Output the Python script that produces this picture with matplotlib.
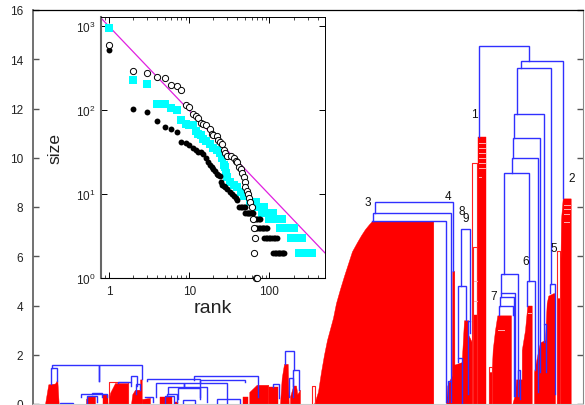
import matplotlib
matplotlib.use("Agg")
import matplotlib.pyplot as plt

plt.rcParams['font.family'] = ['Liberation Sans', 'DejaVu Sans']
plt.rcParams['mathtext.default'] = 'regular'

# main panel: red clusters as outlines (leaf position, height)
red_x = [
    [45, 48.3, 55, 57.3, 58.7],
    [86, 88, 95],
    [103.3, 105, 108.3],
    [108.3, 110, 115, 128.3],
    [131, 132.3, 135, 140, 140.1, 141.7],
    [141.7, 150],
    [160, 171.7],
    [175, 178.3],
    [243.3, 248.3],
    [249.3, 256.7, 268.3],
    [269.3, 277.7],
    [280, 281.7, 284, 287.7, 288.7],
    [290, 293.3, 296, 297.3, 300],
    [314, 318, 321, 324, 327, 330, 333, 336, 340, 344, 348, 352, 357, 361, 365, 369, 372, 433.3],
    [446, 447.3, 451.7, 452.3, 454.3, 454.4, 461.7, 464, 468.3, 468.4, 472],
    [472.5, 477],
    [477.7, 485.7],
    [489, 491.7, 492.7, 495, 497.3, 511],
    [512.3, 515, 516, 521.7, 521.8, 525, 527.3, 531.7],
    [534, 538.3, 540, 545, 546.7, 548.3, 553.3, 555],
    [556.7, 560, 561, 562.7, 570.7],
]
red_h = [
    [0, .8, .83, .99, 0],
    [.2, .31, .31],
    [.38, .38, .38],
    [0, .45, .85, .85],
    [0, .4, .58, .58, 1.0, 1.0],
    [.2, .25],
    [.27, .27],
    [.1, .1],
    [.27, .27],
    [.49, .78, .78],
    [.68, .68],
    [0, 1.05, 1.63, 1.63, 0],
    [.3, .75, .75, .4, .58],
    [0, .5, 1.3, 2.0, 2.6, 3.05, 3.5, 4.1, 4.67, 5.2, 5.7, 6.2, 6.57, 6.85, 7.1, 7.3, 7.43, 7.43],
    [0, .75, 1.15, 5.4, 5.4, 1.6, 1.7, 3.4, 3.4, 2.8, 2.5],
    [3.6, 3.6],
    [10.85, 10.85],
    [1.3, 1.3, 2.2, 3.0, 3.6, 3.6],
    [0, .4, 1, 1, 2.2, 3, 4, 4],
    [1.3, 2.2, 2.5, 2.6, 4.1, 4.4, 4.5, 4.5],
    [4.3, 4.3, 7.5, 8.35, 8.35],
]

# hollow red boxes (left, right, top)
box_l = [109, 312, 472.3, 473, 489, 556.7]
box_r = [128.3, 315, 477, 477, 491.7, 560]
box_t = [.89, .75, 9.78, 6.37, 1.5, 6.23]

# thin pale lines through the peaks
stripe_x0 = [478.5, 478.5, 478.5, 478.5, 478.5, 478.5, 478.5, 563.5, 563.5, 563.5, 563.5, 498, 528, 474, 474]
stripe_x1 = [485, 485, 485, 485, 485, 485, 481, 570, 570, 569, 569, 504, 531, 477, 477]
stripe_h = [10.6, 10.4, 10.2, 10.0, 9.8, 9.6, 9.2, 8.1, 7.9, 7.7, 7.4, 3.0, 3.7, 5.0, 4.2]

# blue links: left x, right x, top, left foot, right foot
link_l = [479, 520.7, 516.7, 514, 512.7, 512, 503.7, 501.3, 501.3, 500.3, 499.3, 527, 550.3, 543.7,
          517.7, 375.3, 373.3, 372, 448, 461, 458.3, 468.3, 457.7,
          51.7, 50.7, 118.3, 131, 135.7, 80.7, 91.7, 86.7, 146.7, 194.3, 200, 155.7, 168.3, 178.3, 166.7,
          165, 216.7, 183.3, 145, 60, 285, 292.7, 289.3, 273.3, 99.3, 184.3]
link_r = [529.3, 563.3, 551, 544.3, 540.3, 538.3, 529.3, 518.3, 515.3, 514, 513.3, 534.7, 555, 546,
          520.3, 452.7, 450.7, 446, 450.7, 469.7, 465.7, 470, 462.3,
          141.7, 57.3, 130.7, 136.7, 140.3, 107.3, 101.7, 96.7, 200, 258.3, 245, 226.7, 206.7, 200, 176.7,
          174, 240, 195, 152.7, 73.3, 294.3, 298.7, 293.3, 279.3, 99.4, 184.4]
link_t = [14.52, 13.94, 13.65, 11.79, 10.79, 9.97, 9.38, 5.26, 4.5, 4.34, 4.0, 4.99, 4.88, 3.25,
          1.4, 8.2, 7.75, 7.43, .95, 7.11, 4.81, 3.39, 1.86,
          1.57, 1.45, .88, 1.15, .8, .41, .46, .31, 1.0, 1.15, .98, .87, .69, .64, .41,
          .31, .2, .18, .27, .04, 2.17, 1.37, 1.06, .83, 1.57, .87]
link_a = [10.85, 13.65, 11.79, 10.79, 9.97, 9.38, 5.26, 4.5, 4.34, 4.0, 3.6, 4.0, 4.5, 2.5,
          1.0, 7.75, 7.43, 7.43, .1, 4.81, 1.86, .4, 1.7,
          1.45, .8, .85, .9, .4, .3, .4, .05, .95, .98, .87, .3, .41, .2, .31,
          .05, .05, .05, .27, 0, 1.63, .3, .3, .68, .95, .69]
link_b = [13.94, 8.37, 4.88, 3.25, 1.29, .5, 4.99, .34, .34, .34, 3.6, 1.4, .4, 1.29,
          .2, 5.42, .95, .1, .1, 3.39, 3.4, 2.9, 0,
          1.0, .92, .75, .75, .58, .3, .3, .1, .2, .27, .9, .05, .1, .3, .1,
          .05, .05, .05, .1, 0, 1.37, .58, .73, .25, .95, .69]

cluster_names = ['1', '2', '3', '4', '8', '9', '5', '6', '7']
name_x = [474.7, 571.3, 367.3, 448.3, 461.7, 466, 553.7, 525.3, 494]
name_y = [11.79, 9.18, 8.2, 8.45, 7.85, 7.56, 6.34, 5.81, 4.4]

# inset: rank / size
open_rank = [1, 2, 3, 4, 5, 6, 7, 8, 9, 10, 11, 12, 13, 14, 15, 16, 18, 19, 20, 22, 23, 24, 26, 27, 28, 30, 33,
             36, 38, 40, 42, 44, 46, 48, 49, 50, 52, 54, 56, 58, 60, 63, 64, 66, 65, 68, 70]
open_size = [585, 287, 272, 244, 237, 196, 193, 171, 113, 109, 90, 84, 81, 69, 68, 66, 60, 52, 51, 49, 44, 42, 39,
             33, 31, 28, 28, 27, 25, 24, 21, 20, 18, 16, 14, 12, 11, 10, 9, 8, 7, 5, 4, 3, 2, 1, 1]

black_rank = [1, 2, 3, 4, 5, 6, 7, 8, 9, 10, 11, 12, 13, 14, 15, 16, 17, 18, 19, 20, 21, 22, 23, 24, 25, 26, 27, 28,
              30, 32, 34, 36, 38, 40, 42, 44, 46, 48, 50, 50, 52, 54, 56, 58, 60, 63, 63, 65, 68, 71, 74, 76,
              68, 71, 74, 77, 80, 83, 86, 90, 94, 86, 90, 94, 98, 103, 108, 113, 118, 124,
              112, 117, 122, 127, 132, 137, 142, 147, 152]
black_size = [519, 103, 95, 73, 62, 60, 55, 42, 40, 38, 35, 33, 32, 32, 30, 27, 24, 22, 21, 20, 19, 17.5, 17, 16.5,
              14, 13, 12.5, 12, 11.5, 10.5, 10, 9.5, 9, 8.5, 7, 7, 7, 7, 7, 6, 6, 6, 6, 6, 6, 6, 5, 5, 5, 5, 5, 5,
              4, 4, 4, 4, 4, 4, 4, 4, 4, 3, 3, 3, 3, 3, 3, 3, 3, 3,
              2, 2, 2, 2, 2, 2, 2, 2, 2]

cyan_rank = [1, 2, 3, 4, 5, 6, 7, 8, 9, 10, 11, 12, 13, 14, 15, 16, 18, 20, 22, 24, 26, 27, 28, 29, 30, 32, 36, 40, 44,
             48, 58, 62, 68, 70, 77, 85, 82, 90, 98, 110, 100, 110, 120, 132, 143, 135, 150, 165, 185, 205,
             185, 205, 230, 255, 235, 260, 290, 320, 340]
cyan_size = [946, 225, 201, 117, 117, 105, 100, 76, 68, 66, 66, 56, 52, 51, 45, 43, 39, 35, 33, 31, 27, 22, 21, 18, 16,
             14, 13, 12, 10.5, 9.5, 8, 8, 8, 7, 7, 7, 6, 6, 6, 6, 5, 5, 5, 5, 5, 4, 4, 4, 4, 4,
             3, 3, 3, 3, 2, 2, 2, 2, 2]

guide_x = [0.787, 494]
guide_y = [1245, 2.0]

fig = plt.figure(figsize=(5.85, 4.06), dpi=100)
W, H = 585.0, 406.0

ax = fig.add_axes([33 / W, 1 / H, 550 / W, 394 / H])
ax.set_xlim(33, 583)
ax.set_ylim(0, 16)

for xs, hs in zip(red_x, red_h):
    ax.fill_between(xs, 0, hs, color='#ff0000', lw=0.3, zorder=2)

for l, r, t in zip(box_l, box_r, box_t):
    ax.plot([l, l, r, r], [0, t, t, 0], color='#ff2020', lw=0.8, zorder=2)

for a, b, h in zip(stripe_x0, stripe_x1, stripe_h):
    ax.plot([a, b], [h, h], color='#ffb0b0', lw=0.7, zorder=3)

for l, r, t, a, b in zip(link_l, link_r, link_t, link_a, link_b):
    ax.plot([l, l, r, r], [a, t, t, b], color='#3030ff', lw=1.0, zorder=4, solid_joinstyle='miter')

for s, x, y in zip(cluster_names, name_x, name_y):
    ax.text(x, y, s, fontsize=8.5, ha='center', va='center', color='#111111', zorder=5)

ax.set_xticks([])
ax.set_yticks(range(0, 17, 2))
ax.tick_params(axis='y', direction='in', length=4, width=1, color='#555555', labelsize=8.5,
               right=True, pad=7, labelcolor='#222222')
ax.spines['left'].set_color('#666666')
ax.spines['left'].set_linewidth(1.3)
ax.spines['right'].set_color('#888888')
ax.spines['bottom'].set_color('#cccccc')
ax.spines['top'].set_linewidth(0.9)

# inset
ins = fig.add_axes([100.7 / W, (406 - 279.3) / H, 224.3 / W, 261 / H], zorder=6)
ins.set_xscale('log')
ins.set_yscale('log')
ins.set_xlim(0.787, 494)
ins.set_ylim(1, 1259)

ins.plot(guide_x, guide_y, color='#e020e0', lw=0.9, zorder=2)
ins.scatter(cyan_rank, cyan_size, marker='s', s=28, color='#00ffff', linewidths=0, zorder=3, clip_on=False)
ins.scatter(black_rank, black_size, marker='o', s=18, color='black', linewidths=0, zorder=4, clip_on=False)
ins.scatter(open_rank, open_size, marker='o', s=20, facecolors='white', edgecolors='black', linewidths=0.7,
            zorder=5, clip_on=False)

ins.set_xticks([1, 10, 100])
ins.set_xticklabels(['1', '10', '100'])
ins.set_yticks([1, 10, 100, 1000])
ins.tick_params(axis='both', which='major', direction='in', length=4, width=0.7, top=True, right=True,
                labelsize=8.5, labelcolor='#222222')
ins.tick_params(axis='both', which='minor', direction='in', length=2, width=0.5, top=True, right=False,
                left=False)
ins.tick_params(axis='x', pad=5)
ins.spines['left'].set_color('#666666')
ins.spines['left'].set_linewidth(1.5)
ins.spines['top'].set_linewidth(0.7)
ins.spines['right'].set_linewidth(0.7)

ins.set_xlabel('rank', fontsize=14, labelpad=1, color='#222222')
ins.set_ylabel('size', fontsize=12.5, labelpad=10, color='#222222')

fig.savefig('out.png', dpi=100)
